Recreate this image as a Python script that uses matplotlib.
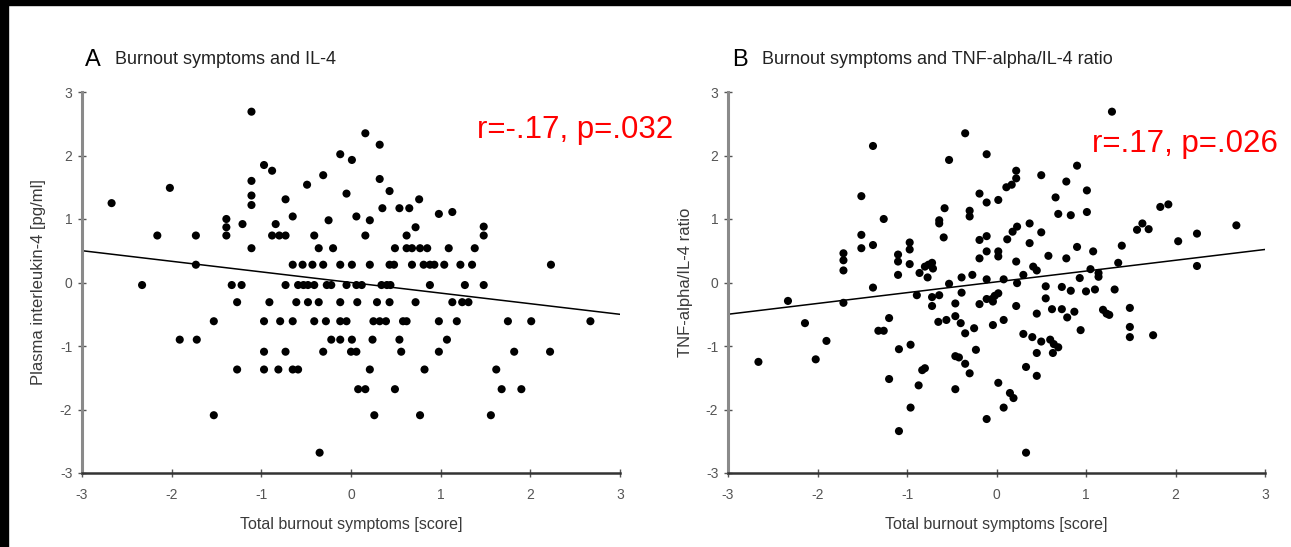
import matplotlib
matplotlib.use("Agg")
import matplotlib.pyplot as plt
from matplotlib.patches import Rectangle

plt.rcParams['font.family'] = ['Liberation Sans', 'DejaVu Sans']
plt.rcParams['axes.unicode_minus'] = False

# Panel A: burnout score vs plasma IL-4
burnout_a = [
    -2.67, -2.16, -2.02, -1.73, -1.73, -1.39, -1.39, -1.39, -1.21,
    -1.11, -1.11, -1.11, -1.11, -1.11, -0.97, -0.88, -0.84, -0.88, -0.80, -0.73,
    -0.73, -0.65,
    -0.65, -0.54, -0.43, -0.31, -0.12, 0.01, 0.21, 0.43, 0.48, 0.68, 0.81, 0.88,
    0.93, 1.04, 1.22, 1.35, 2.23,
    -0.49, -0.41, -0.36, -0.31, -0.25, -0.20,
    -0.12, 0.01, -0.05, 0.06,
    0.16, 0.32, 0.32, 0.43, 0.76, 0.35, 0.54, 0.65,
    0.21, 0.98, 1.13, 0.72, 1.48, 1.48, 0.16, 0.62,
    0.49, 0.62, 0.68, 0.77, 0.85, 1.09, 1.38,
    -2.33,
    -1.33, -1.22, -0.73, -0.59, -0.53, -0.48, -0.41, -0.27, -0.22, -0.05, 0.06,
    0.12, 0.34, 0.40, 0.44, 0.88, 1.27, 1.48,
    -1.27, -0.91, -0.61, -0.48, -0.36, -0.12, 0.07, 0.29, 0.43, 0.72, 1.13, 1.24, 1.31,
    -1.53, -0.97, -0.79, -0.65, -0.41, -0.28, -0.12, -0.05, 0.25, 0.32, 0.39,
    0.58, 0.62, 0.98, 1.18, 1.75, 2.01, 2.67,
    -1.91, -1.72, -0.22, -0.12, 0.01, 0.24, 0.54, 1.07,
    -0.97, -0.73, -0.31, 0.00, 0.06, 0.56, 0.98, 1.82, 2.22,
    -1.27, -0.97, -0.81, -0.65, -0.59, 0.21, 0.82, 1.62,
    0.08, 0.16, 0.49, 1.68, 1.90,
    -1.53, 0.26, 0.77, 1.56,
    -0.35,
]
il4 = [
    1.25, 0.74, 1.49, 0.74, 0.28, 1.00, 0.87, 0.74, 0.92,
    2.69, 1.60, 1.37, 1.22, 0.54, 1.85, 1.76, 0.92, 0.74, 0.74, 0.74,
    1.31, 1.04,
    0.28, 0.28, 0.28, 0.28, 0.28, 0.28, 0.28, 0.28, 0.28, 0.28, 0.28, 0.28,
    0.28, 0.28, 0.28, 0.28, 0.28,
    1.54, 0.74, 0.54, 1.69, 0.98, 0.54,
    2.02, 1.93, 1.40, 1.04,
    2.35, 2.17, 1.63, 1.44, 1.31, 1.17, 1.17, 1.17,
    0.98, 1.08, 1.11, 0.87, 0.88, 0.74, 0.74, 0.74,
    0.54, 0.54, 0.54, 0.54, 0.54, 0.54, 0.54,
    -0.04,
    -0.04, -0.04, -0.04, -0.04, -0.04, -0.04, -0.04, -0.04, -0.04, -0.04, -0.04,
    -0.04, -0.04, -0.04, -0.04, -0.04, -0.04, -0.04,
    -0.31, -0.31, -0.31, -0.31, -0.31, -0.31, -0.31, -0.31, -0.31, -0.31, -0.31, -0.31, -0.31,
    -0.61, -0.61, -0.61, -0.61, -0.61, -0.61, -0.61, -0.61, -0.61, -0.61, -0.61,
    -0.61, -0.61, -0.61, -0.61, -0.61, -0.61, -0.61,
    -0.90, -0.90, -0.90, -0.90, -0.90, -0.90, -0.90, -0.90,
    -1.09, -1.09, -1.09, -1.09, -1.09, -1.09, -1.09, -1.09, -1.09,
    -1.37, -1.37, -1.37, -1.37, -1.37, -1.37, -1.37, -1.37,
    -1.68, -1.68, -1.68, -1.68, -1.68,
    -2.09, -2.09, -2.09, -2.09,
    -2.68,
]

# Panel B: burnout score vs TNF-alpha/IL-4 ratio
burnout_b = [
    -1.38, -1.51, -1.26, -1.51, -1.51, -1.38, -1.71, -1.71, -1.71,
    -1.10, -1.10, -1.10, -0.97, -0.97, -0.97, -0.86,
    -0.80, -0.76, -0.72, -0.71, -0.77, -0.64, -0.64, -0.59, -0.58,
    -0.39, -0.27, -0.53, -0.35, -0.30, -0.30,
    -0.19, -0.19, -0.19, -0.11, -0.11, -0.11, -0.11, -0.11,
    0.02, 0.02, 0.02, 0.08, 0.12, 0.11, 0.17, 0.22, 0.22, 0.22, 0.18, 0.23,
    1.29, 0.50, 0.90, 0.78, 0.66, 1.01, 0.69, 0.83, 1.01, 0.37, 0.50, 0.37,
    0.58, 0.78, 0.90, 1.08, 1.40, 1.36, 1.57, 1.63, 1.70, 1.83, 1.92, 2.03,
    2.24, 2.24, 2.68, 0.41, 0.45, 0.30, 1.05, 1.14, 1.14, 0.93,
    0.23, -2.33, -1.71, -1.38, -0.89, -0.72, -0.64, -0.72, -0.53, -0.46, -0.39,
    -0.19, -0.11, -0.05, -0.02, 0.02, -0.04, 0.22, -2.14, -1.90, -2.66, -2.02,
    -1.20, -1.32, -1.26, -0.65, -0.56, -0.46, -0.40, -0.35, -0.25, -0.04, 0.08,
    -1.09, -0.96, -0.23, -0.46, -0.42, -0.35, -0.30, -0.83, -0.80, -1.20, -0.87,
    -0.46, 0.02, 0.15, 0.19, -0.96, 0.08, -0.11, -1.09,
    0.55, 0.55, 0.73, 0.83, 1.00, 1.10, 1.32, 0.45, 0.62, 0.73, 0.87, 0.79,
    1.19, 1.23, 1.26, 1.49, 1.49, 1.49, 1.75, 0.94, 0.30, 0.40, 0.50, 0.60,
    0.64, 0.69, 0.45, 0.63, 0.33, 0.45, 0.33,
]
tnf_il4 = [
    2.15, 1.36, 1.00, 0.75, 0.54, 0.59, 0.46, 0.35, 0.19,
    0.44, 0.33, 0.12, 0.63, 0.52, 0.29, 0.15,
    0.25, 0.28, 0.31, 0.22, 0.08, 0.98, 0.93, 0.71, 1.17,
    0.08, 0.12, 1.93, 2.35, 1.13, 1.04,
    1.40, 0.67, 0.38, 2.02, 1.26, 0.73, 0.49, 0.05,
    1.30, 0.49, 0.41, 0.05, 0.68, 1.50, 1.54, 1.76, 1.64, 0.33, 0.80, 0.88,
    2.69, 1.69, 1.84, 1.59, 1.34, 1.45, 1.08, 1.06, 1.11, 0.93, 0.79, 0.62,
    0.42, 0.38, 0.56, 0.49, 0.58, 0.31, 0.83, 0.93, 0.84, 1.19, 1.23, 0.65,
    0.77, 0.26, 0.90, 0.25, 0.19, 0.12, 0.21, 0.15, 0.09, 0.07,
    -0.01, -0.29, -0.32, -0.08, -0.20, -0.23, -0.20, -0.37, -0.02, -0.33, -0.16,
    -0.34, -0.26, -0.26, -0.21, -0.17, -0.30, -0.37, -0.64, -0.92, -1.25, -1.21,
    -0.56, -0.76, -0.76, -0.62, -0.59, -0.53, -0.64, -0.80, -0.72, -0.67, -0.59,
    -1.05, -0.98, -1.06, -1.16, -1.18, -1.28, -1.43, -1.38, -1.35, -1.52, -1.62,
    -1.68, -1.58, -1.74, -1.82, -1.97, -1.97, -2.15, -2.34,
    -0.06, -0.25, -0.07, -0.13, -0.14, -0.11, -0.11, -0.49, -0.42, -0.42, -0.46, -0.55,
    -0.43, -0.49, -0.51, -0.40, -0.70, -0.86, -0.83, -0.75, -0.81, -0.86, -0.93, -0.90,
    -0.97, -1.02, -1.11, -1.11, -1.33, -1.47, -2.68,
]

# regression lines (slope, intercept)
fit_a = (-0.167, 0.0)
fit_b = (0.170, 0.01)
stats_a = "r=-.17, p=.032"
stats_b = "r=.17, p=.026"

ticks = [-3, -2, -1, 0, 1, 2, 3]

fig = plt.figure(figsize=(12.91, 5.47), dpi=100, facecolor='w')

# black frame strips along top and left edge of the scan
fig.add_artist(Rectangle((0, 1 - 5 / 547), 1, 5 / 547, transform=fig.transFigure,
                         color='k', zorder=10))
fig.add_artist(Rectangle((0, 0), 8 / 1291, 1, transform=fig.transFigure,
                         color='k', zorder=10))

ax_a = fig.add_axes([82 / 1291, 1 - 473 / 547, 538 / 1291, 381 / 547])
ax_b = fig.add_axes([728 / 1291, 1 - 473 / 547, 537 / 1291, 381 / 547])


def style_axis(ax, ylabel):
    ax.set_xlim(-3, 3)
    ax.set_ylim(-3, 3)
    ax.set_xticks(ticks)
    ax.set_yticks(ticks)
    for s in ['top', 'right']:
        ax.spines[s].set_visible(False)
    ax.spines['left'].set_color('#8a8a8a')
    ax.spines['left'].set_linewidth(2.2)
    ax.spines['bottom'].set_color('#333333')
    ax.spines['bottom'].set_linewidth(1.8)
    ax.tick_params(axis='both', direction='inout', length=6, width=1,
                   colors='#555555', labelsize=10, pad=4)
    ax.tick_params(axis='x', pad=8)
    ax.set_xlabel("Total burnout symptoms [score]", fontsize=11.5, color='#3a3a3a')
    ax.set_ylabel(ylabel, fontsize=12, color='#3a3a3a')
    ax.xaxis.set_label_coords(0.5, -0.115)
    ax.yaxis.set_label_coords(-0.066, 0.5)


for ax, xs, ys, fit, lab in [(ax_a, burnout_a, il4, fit_a, "Plasma interleukin-4 [pg/ml]"),
                             (ax_b, burnout_b, tnf_il4, fit_b, "TNF-alpha/IL-4 ratio")]:
    ax.scatter(xs, ys, s=34, c='k', edgecolors='none', clip_on=False, zorder=3)
    lx = [-3, 3]
    ax.plot(lx, [fit[0] * v + fit[1] for v in lx], color='k', lw=1.1, zorder=2)
    style_axis(ax, lab)

# panel titles
fig.text(85 / 1291, 1 - 60 / 547, "A", fontsize=17, va='center', ha='left')
fig.text(115 / 1291, 1 - 60 / 547, "Burnout symptoms and IL-4", fontsize=13,
         va='center', ha='left', color='#222222')
fig.text(732 / 1291, 1 - 60 / 547, "B", fontsize=17, va='center', ha='left')
fig.text(762 / 1291, 1 - 60 / 547, "Burnout symptoms and TNF-alpha/IL-4 ratio",
         fontsize=13, va='center', ha='left', color='#222222')

# correlation annotations
fig.text(477 / 1291, 1 - 130 / 547, stats_a, fontsize=22.5, color='red',
         va='center', ha='left')
fig.text(1092 / 1291, 1 - 144 / 547, stats_b, fontsize=22.5, color='red',
         va='center', ha='left')

plt.savefig("out.png", dpi=100, facecolor='w')
plt.close()
